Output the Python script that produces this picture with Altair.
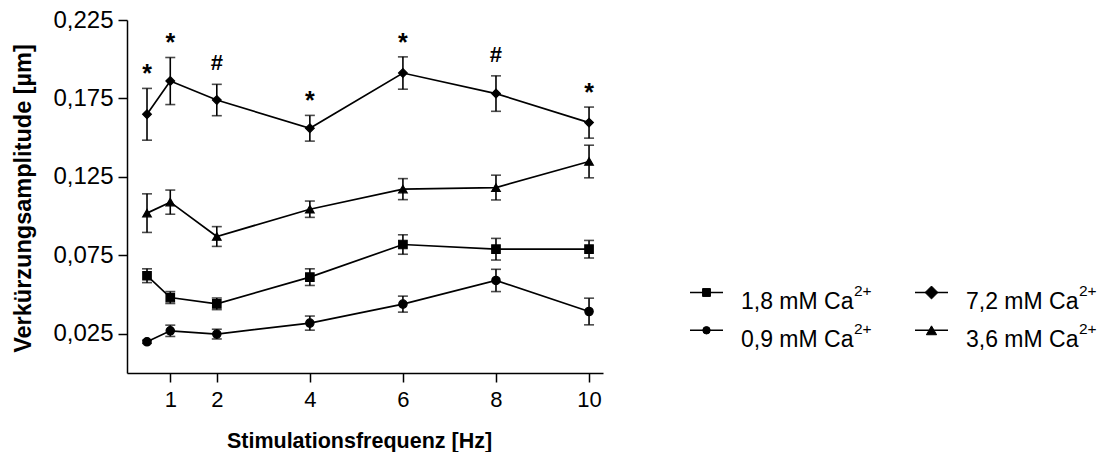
import altair as alt
import pandas as pd

# Stimulation frequencies (Hz)
freqs = [0.5, 1, 2, 4, 6, 8, 10]

# Shortening amplitude (µm), mean and SEM per Ca2+ concentration
mean_09 = [0.0199, 0.0269, 0.0248, 0.0318, 0.0439, 0.0590, 0.0392]
sem_09 = [0.0010, 0.0036, 0.0031, 0.0045, 0.0051, 0.0071, 0.0085]

mean_18 = [0.0620, 0.0481, 0.0441, 0.0611, 0.0819, 0.0789, 0.0789]
sem_18 = [0.0044, 0.0038, 0.0037, 0.0053, 0.0062, 0.0069, 0.0056]

mean_36 = [0.1019, 0.1089, 0.0870, 0.1044, 0.1172, 0.1182, 0.1348]
sem_36 = [0.0123, 0.0077, 0.0063, 0.0052, 0.0067, 0.0079, 0.0104]

mean_72 = [0.1649, 0.1861, 0.1740, 0.1560, 0.1912, 0.1781, 0.1596]
sem_72 = [0.0165, 0.0150, 0.0100, 0.0082, 0.0103, 0.0113, 0.0099]

# Significance marks above the 7,2 mM series
sig_72 = ["*", "*", "#", "*", "*", "#", "*"]

series_names = ["0,9 mM Ca", "1,8 mM Ca", "3,6 mM Ca", "7,2 mM Ca"]
series_shapes = ["circle", "square", "triangle-up", "diamond"]
series_sizes = [70, 76, 120, 200]

x_ticks = [1, 2, 4, 6, 8, 10]
y_ticks = [0.025, 0.075, 0.125, 0.175, 0.225]

rows = []
for name, means, sems in zip(series_names,
                             [mean_09, mean_18, mean_36, mean_72],
                             [sem_09, sem_18, sem_36, sem_72]):
    for f, m, s in zip(freqs, means, sems):
        rows.append({"freq": f, "mean": m, "lo": m - s, "hi": m + s, "series": name})
df = pd.DataFrame(rows)

ann = pd.DataFrame({
    "freq": freqs,
    "hi": [m + s for m, s in zip(mean_72, sem_72)],
    "sig": sig_72,
})

FONT = "Liberation Sans"
W, H = 476, 353
LEFT, TOP = 127, 20

x_scale = alt.Scale(domain=[0.07, 10.3], nice=False, zero=False)
y_scale = alt.Scale(domain=[0, 0.225], nice=False, zero=False)

x_axis = alt.Axis(
    values=x_ticks, format="d", grid=False,
    labelFont=FONT, labelFontSize=22, labelPadding=7, labelColor="black",
    tickSize=9, tickWidth=1.5, tickColor="black",
    domainWidth=1.5, domainColor="black",
    titleFont=FONT, titleFontSize=21.5, titleFontWeight="bold", titleColor="black",
    titleX=232, titleY=74, titleAlign="center", titleBaseline="alphabetic",
)
y_axis = alt.Axis(
    values=y_ticks, grid=False,
    labelExpr="replace(format(datum.value, '.3f'), '.', ',')",
    labelFont=FONT, labelFontSize=24, labelPadding=5, labelColor="black",
    tickSize=9, tickWidth=1.5, tickColor="black",
    domainWidth=1.5, domainColor="black",
    titleFont=FONT, titleFontSize=23.5, titleFontWeight="bold", titleColor="black",
    titleAngle=270, titleX=-97, titleY=178, titleAlign="center", titleBaseline="alphabetic",
)

X = alt.X("freq:Q", scale=x_scale, axis=x_axis, title="Stimulationsfrequenz [Hz]")
Y_TITLE = "Verkürzungsamplitude [µm]"

base = alt.Chart(df)

lines = base.mark_line(color="black", strokeWidth=1.7).encode(
    x=X,
    y=alt.Y("mean:Q", scale=y_scale, axis=y_axis, title=Y_TITLE),
    detail="series:N",
)

err_rules = base.mark_rule(color="black", strokeWidth=1.6).encode(
    x=X,
    y=alt.Y("lo:Q", scale=y_scale, axis=y_axis, title=Y_TITLE),
    y2="hi:Q",
)
cap_hi = base.mark_tick(color="black", orient="horizontal", size=10, thickness=1.6).encode(
    x=X, y=alt.Y("hi:Q", scale=y_scale, axis=y_axis, title=Y_TITLE),
)
cap_lo = base.mark_tick(color="black", orient="horizontal", size=10, thickness=1.6).encode(
    x=X, y=alt.Y("lo:Q", scale=y_scale, axis=y_axis, title=Y_TITLE),
)

# Filled markers with a thin outline of the same colour
points = base.mark_point(filled=True, fill="black", stroke="black", strokeWidth=1.2,
                         opacity=1).encode(
    x=X,
    y=alt.Y("mean:Q", scale=y_scale, axis=y_axis, title=Y_TITLE),
    shape=alt.Shape("series:N", scale=alt.Scale(domain=series_names, range=series_shapes), legend=None),
    size=alt.Size("series:N", scale=alt.Scale(domain=series_names, range=series_sizes), legend=None),
)

ann_base = alt.Chart(ann)
stars = ann_base.transform_filter("datum.sig == '*'").mark_text(
    font=FONT, fontSize=25, fontWeight="bold", color="black", baseline="alphabetic", dy=-6
).encode(x=X, y=alt.Y("hi:Q", scale=y_scale, axis=y_axis, title=Y_TITLE), text="sig:N")
hashes = ann_base.transform_filter("datum.sig == '#'").mark_text(
    font=FONT, fontSize=22, fontWeight="bold", color="black", baseline="alphabetic", dy=-14
).encode(x=X, y=alt.Y("hi:Q", scale=y_scale, axis=y_axis, title=Y_TITLE), text="sig:N")

# Legend drawn by hand so the charge can be set as a superscript
legend_entries = [
    # (label, shape, size, column, row)
    ("1,8 mM Ca", "square", 62, 0, 0),
    ("0,9 mM Ca", "circle", 55, 0, 1),
    ("7,2 mM Ca", "diamond", 165, 1, 0),
    ("3,6 mM Ca", "triangle-up", 105, 1, 1),
]
one = pd.DataFrame({"k": [0]})
legend_layers = []
for label, shape, size, col, row in legend_entries:
    x0 = 563 + col * 225
    ys = 272.5 + row * 37.8
    c = alt.Chart(one)
    legend_layers.append(c.mark_rule(color="black", strokeWidth=1.5).encode(
        x=alt.value(x0), x2=alt.value(x0 + 33), y=alt.value(ys)))
    legend_layers.append(c.mark_point(filled=True, fill="black", stroke="black", strokeWidth=1,
                                      opacity=1).encode(
        x=alt.value(x0 + 16.5), y=alt.value(ys), shape=alt.value(shape), size=alt.value(size)))
    legend_layers.append(c.mark_text(font=FONT, fontSize=23, color="black", align="left",
                                     baseline="alphabetic").encode(
        x=alt.value(x0 + 51), y=alt.value(ys + 16.8), text=alt.value(label)))
    legend_layers.append(c.mark_text(font=FONT, fontSize=15.5, color="black", align="left",
                                     baseline="alphabetic").encode(
        x=alt.value(x0 + 164), y=alt.value(ys + 3.8), text=alt.value("2+")))

chart = alt.layer(
    lines, err_rules, cap_hi, cap_lo, points, stars, hashes, *legend_layers
).properties(
    width=W, height=H,
    padding={"left": LEFT, "top": TOP, "right": 1116 - LEFT - W, "bottom": 452 - TOP - H},
    autosize=alt.AutoSizeParams(type="none"),
    background="white",
).configure_view(stroke=None)

chart.save("out.html", embed_options={"renderer": "svg", "actions": False})
